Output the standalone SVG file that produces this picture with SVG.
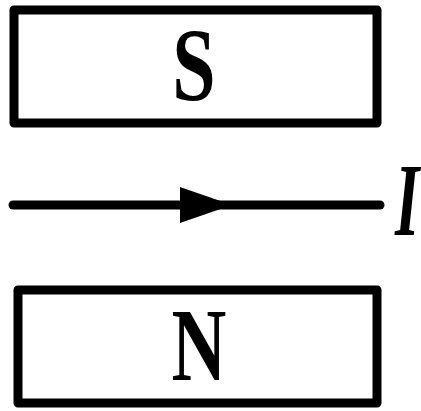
<svg xmlns="http://www.w3.org/2000/svg" width="421" height="411" viewBox="0 0 421 411">
<style>
.box{fill:#fff;stroke:#000;stroke-width:9;stroke-linejoin:round}
.lbl{font-family:"Liberation Serif","Times New Roman",serif;font-weight:bold;font-size:104px;fill:#000}
.wire{stroke:#000;stroke-width:9;stroke-linecap:round;fill:none}
</style>
<rect width="421" height="411" fill="#fff"/>
<g id="magnet-S">
<rect class="box" x="14" y="10" width="363" height="113"/>
<text class="lbl" text-anchor="middle" transform="translate(194,100) scale(0.75,1)">S</text>
</g>
<g id="magnet-N">
<rect class="box" x="18" y="290" width="359" height="113"/>
<text class="lbl" text-anchor="middle" transform="translate(199,380) scale(0.73,1)">N</text>
</g>
<g id="connectors">
<line class="wire" x1="13" y1="205" x2="380" y2="205"/>
<polygon points="180,187 232,205 180,223" fill="#000"/>
</g>
<g id="label-I">
<text class="lbl" font-style="italic" transform="translate(395,235) scale(0.6,1)">I</text>
</g>
</svg>
